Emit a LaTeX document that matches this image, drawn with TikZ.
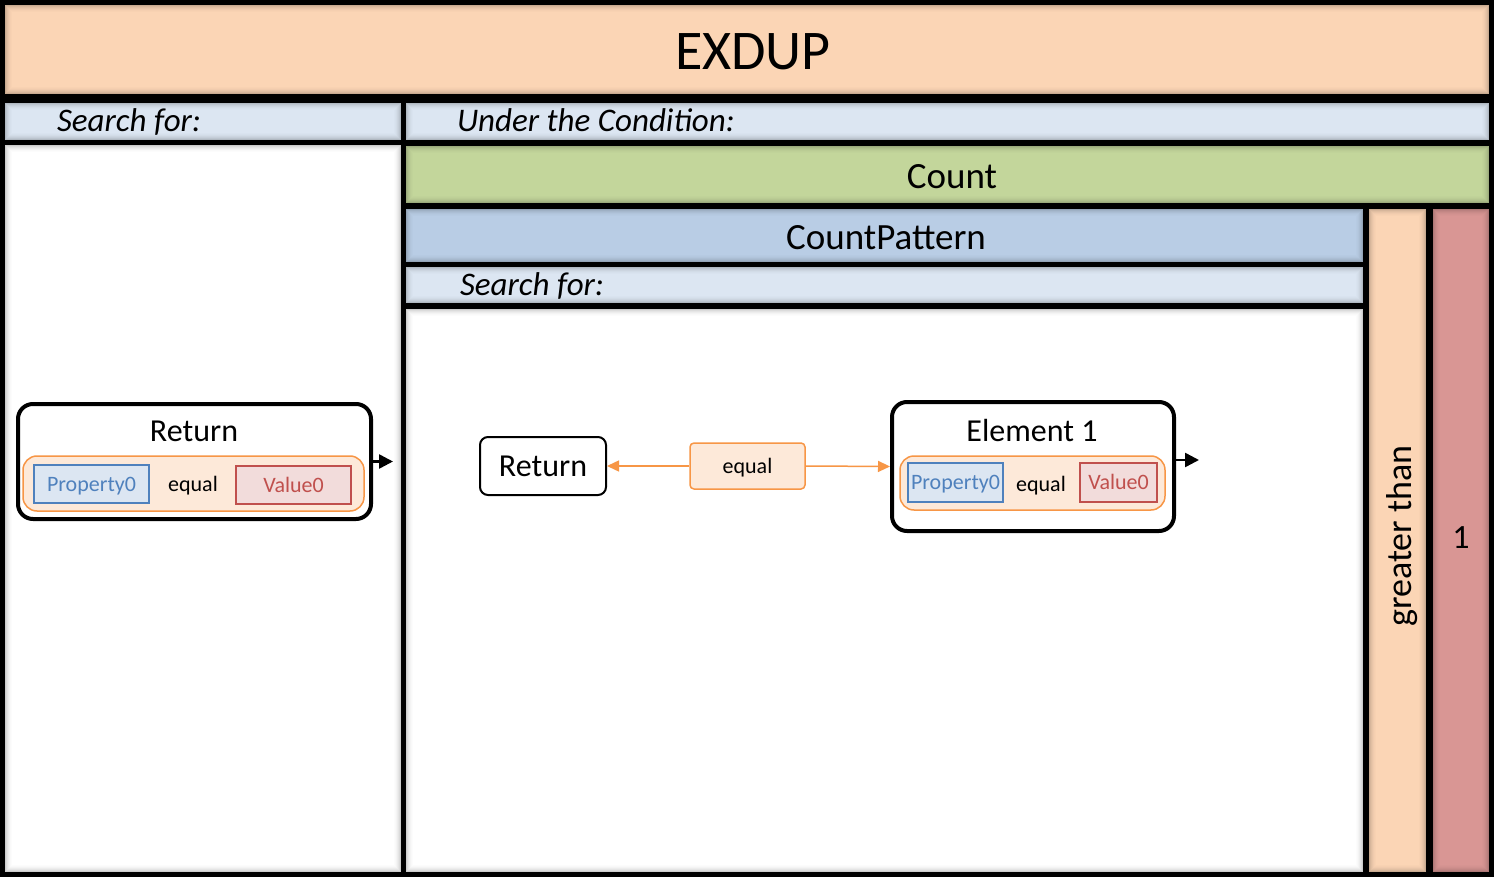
\documentclass[tikz,border=0pt]{standalone}
\usepackage{fontspec}
\setmainfont{Carlito}
\usetikzlibrary{arrows.meta,calc}
\definecolor{peach}{HTML}{FBD5B5}
\definecolor{lblue}{HTML}{DCE6F2}
\definecolor{mblue}{HTML}{B9CDE5}
\definecolor{greenA}{HTML}{C3D69B}
\definecolor{rose}{HTML}{D99694}
\definecolor{orangeL}{HTML}{F79646}
\definecolor{orangeF}{HTML}{FDE9D9}
\definecolor{blueD}{HTML}{4F81BD}
\definecolor{redD}{HTML}{C0504D}
\definecolor{redF}{HTML}{F2DCDB}
\newcommand{\fs}[1]{\fontsize{#1}{#1}\selectfont}
\newcommand{\mypanel}[5]{%
  \fill[#5] (#1,#2) rectangle (#3,#4);
  \foreach \d/\o in {0.5/0.20,1.5/0.14,2.5/0.10,3.5/0.07,4.5/0.045,5.5/0.025,6.5/0.01}{
    \draw[black,opacity=\o,line width=1] ($(#1,#2)+(\d,\d)$) rectangle ($(#3,#4)+(-\d,-\d)$);
  }
}
\tikzset{
  lbl/.style={inner sep=0pt, outer sep=0pt, anchor=base},
  container/.style={draw=black, line width=4, rounded corners=15, fill=white, inner sep=0pt},
  smallbox/.style={draw=black, line width=2, rounded corners=8, fill=white, inner sep=0pt, text height=25, text depth=5},
  cond/.style={draw=orangeL, line width=1.5, rounded corners=14, fill=orangeF, inner sep=0pt},
  prop/.style={draw=blueD, line width=1.5, fill=lblue, text=blueD, inner sep=0pt, font=\fs{22}, text height=17, text depth=3},
  val/.style={draw=redD, line width=1.5, fill=redF, text=redD, inner sep=0pt, font=\fs{22}, text height=17, text depth=3},
  rel/.style={draw=orangeL, line width=1.5, rounded corners=4, fill=orangeF, inner sep=0pt, font=\fs{22}, text height=17, text depth=3},
  blackarrow/.style={draw=black, line width=2.5, -{Triangle[length=14,width=14]}},
  orangearrow/.style={draw=orangeL, line width=1.5, -{Triangle[length=12,width=11]}},
}
\begin{document}
\begin{tikzpicture}[x=1pt,y=-1pt]
\useasboundingbox (0,0) rectangle (1494,877);
\fill[black] (0,0) rectangle (1494,877);
% panels
\mypanel{5}{5}{1489}{94}{peach}
\mypanel{5}{103}{401}{140}{lblue}
\mypanel{5}{145}{401}{872}{white}
\mypanel{406}{103}{1489}{140}{lblue}
\mypanel{406}{146}{1489}{203}{greenA}
\mypanel{406}{209}{1363}{262}{mblue}
\mypanel{406}{267}{1363}{303}{lblue}
\mypanel{406}{309}{1363}{872}{white}
\mypanel{1369}{209}{1426}{872}{peach}
\mypanel{1433}{209}{1489}{872}{rose}
% panel texts
\node[lbl, font=\fs{56}] (title) at (753,70) {EXDUP};
\node[lbl, anchor=base west, font=\fs{33}\itshape] (sf1) at (57,132) {Search for:};
\node[lbl, anchor=base west, font=\fs{33}\itshape] (cond) at (457,132) {Under the Condition:};
\node[lbl, font=\fs{37}] (count) at (952,189) {Count};
\node[lbl, font=\fs{37}] (cp) at (886,250) {CountPattern};
\node[lbl, anchor=base west, font=\fs{33}\itshape] (sf2) at (460,296) {Search for:};
\node[lbl, rotate=90, font=\fs{36}] (gt) at (1411,536) {greater than};
\node[lbl, font=\fs{34}] (one) at (1461,548) {1};
% left Return
\node[container, minimum width=353, minimum height=115] (ret1) at (194.5,461.5) {};
\node[lbl, font=\fs{32}] (ret1t) at (194,441) {Return};
\node[cond, minimum width=341, minimum height=55] (c1) at (193.5,483.5) {};
\node[prop, minimum width=115, minimum height=38] (p1) at (91.5,484) {Property0};
\node[lbl, font=\fs{22}] (e1) at (193,491) {equal};
\node[val, minimum width=115, minimum height=38] (v1) at (293.5,485) {Value0};
\coordinate (a1) at (393,461.5);
\draw[blackarrow] (ret1.east) -- (a1);
% middle
\node[smallbox, minimum width=126, minimum height=58, font=\fs{32}] (ret2) at (543,466) {Return};
\node[rel, minimum width=115, minimum height=46] (eq) at (747.5,466) {equal};
\node[container, minimum width=282, minimum height=129] (el) at (1033,466.5) {};
\node[lbl, font=\fs{32}] (elt) at (1032,441) {Element 1};
\node[cond, minimum width=265, minimum height=54] (c2) at (1032.5,483) {};
\node[prop, minimum width=95, minimum height=39] (p2) at (955.5,482.5) {Property0};
\node[lbl, font=\fs{22}] (e2) at (1041,491) {equal};
\node[val, minimum width=77, minimum height=39] (v2) at (1118.5,482.5) {Value0};
\draw[orangearrow] (eq.west) -- (ret2.east);
\draw[orangearrow] (eq.east) -- (el.west);
\coordinate (a2) at (1199,460);
\draw[blackarrow] (el.east |- a2) -- (a2);
\end{tikzpicture}
\end{document}
